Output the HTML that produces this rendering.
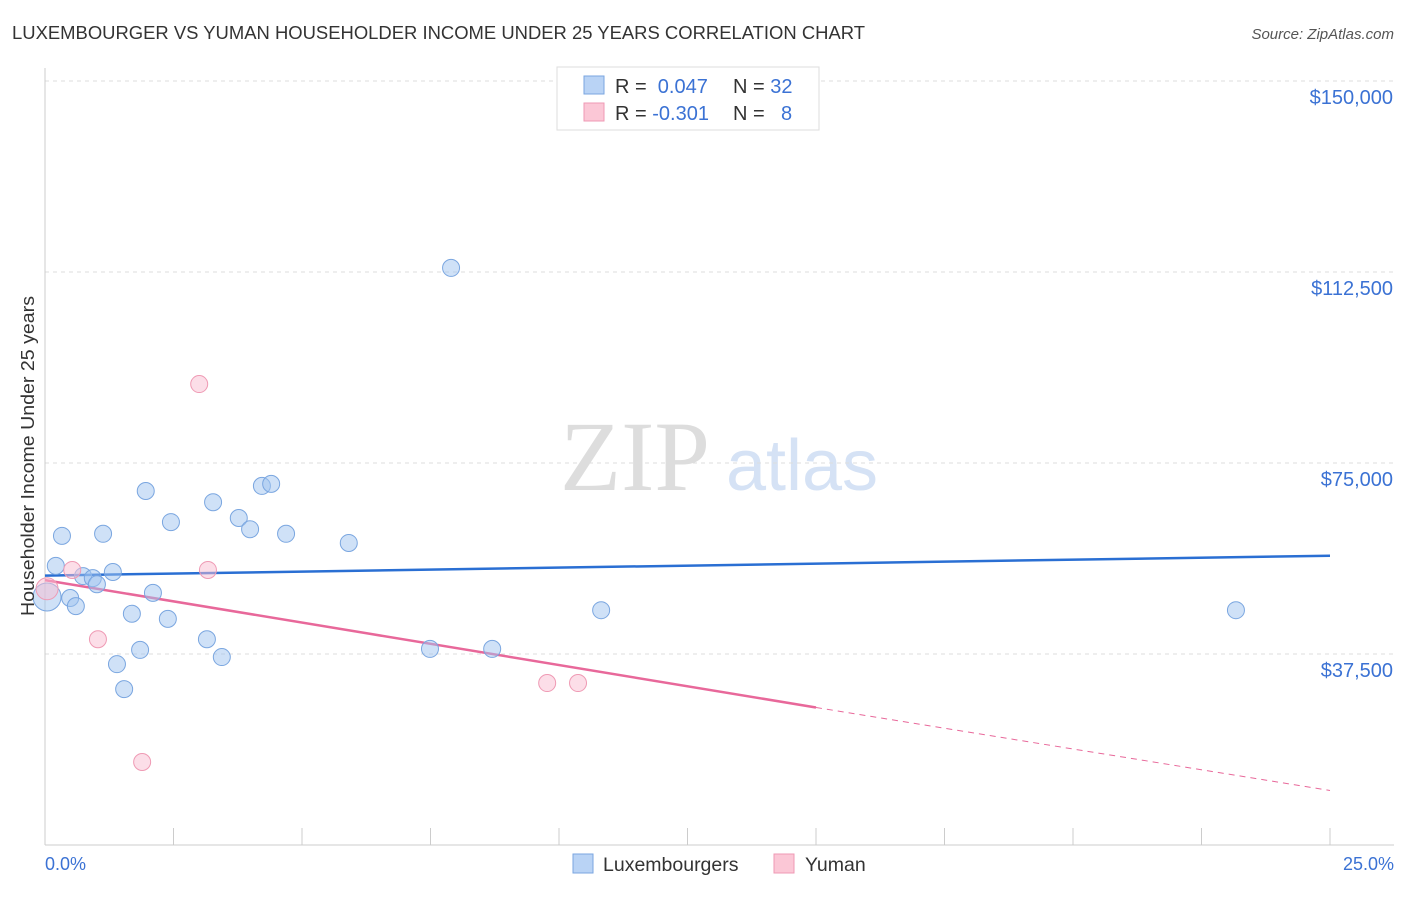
<!DOCTYPE html>
<html><head><meta charset="utf-8"><style>
body{margin:0;background:#fff;font-family:"Liberation Sans",sans-serif;}
svg text{font-family:"Liberation Sans",sans-serif;}
</style></head><body>
<svg id="chart" width="1406" height="892" xmlns="http://www.w3.org/2000/svg">
<text x="12" y="39" font-size="18" fill="#333" textLength="853" lengthAdjust="spacingAndGlyphs">LUXEMBOURGER VS YUMAN HOUSEHOLDER INCOME UNDER 25 YEARS CORRELATION CHART</text>
<text x="1394" y="39" font-size="15" fill="#555" text-anchor="end" font-style="italic">Source: ZipAtlas.com</text>
<g>
<text x="635" y="490" font-size="100" fill="#ddd" style="font-family:'Liberation Serif',serif" text-anchor="middle">ZIP</text>
<text x="802" y="490" font-size="72" fill="#d5e2f5" text-anchor="middle">atlas</text>
</g>
<g id="grid"></g><g id="axes"></g><g id="lines"></g><g id="points"></g>
<text transform="translate(34,456) rotate(-90)" font-size="18" fill="#333" text-anchor="middle" textLength="320" lengthAdjust="spacingAndGlyphs">Householder Income Under 25 years</text>
<text x="45" y="870" font-size="18" fill="#3b72d4">0.0%</text>
<text x="1394" y="870" font-size="18" fill="#3b72d4" text-anchor="end">25.0%</text>
<g>
<rect x="557" y="67" width="262" height="63" fill="#fff" stroke="#ddd"/>
<rect x="584" y="76" width="20" height="18" fill="#b9d3f5" stroke="#7aa6e0"/>
<rect x="584" y="103" width="20" height="18" fill="#fbc7d6" stroke="#ef9ab4"/>
<text x="615" y="93" font-size="20" fill="#333">R = <tspan fill="#3b72d4">&#160;0.047</tspan><tspan x="733">N = </tspan><tspan fill="#3b72d4">32</tspan></text>
<text x="615" y="120" font-size="20" fill="#333">R = <tspan fill="#3b72d4">-0.301</tspan><tspan x="733">N = </tspan><tspan fill="#3b72d4" x="781">8</tspan></text>
</g>
<g>
<rect x="573" y="854" width="20" height="19" fill="#b9d3f5" stroke="#7aa6e0"/>
<text x="603" y="871" font-size="19.5" fill="#333">Luxembourgers</text>
<rect x="774" y="854" width="20" height="19" fill="#fbc7d6" stroke="#ef9ab4"/>
<text x="805" y="871" font-size="19.5" fill="#333">Yuman</text>
</g>
</svg>
<script>
const yTicks=[37500,75000,112500,150000];
const yTickLabels=["$37,500","$75,000","$112,500","$150,000"];
const luxX=[0.04,0.21,0.33,0.49,0.6,0.74,0.93,1.01,1.13,1.32,1.4,1.54,1.69,1.85,1.96,2.1,2.39,2.45,3.15,3.27,3.44,3.77,3.99,4.22,4.4,4.69,5.91,7.49,7.9,8.7,10.82,23.17];
const luxY=[48700,54800,60700,48500,46900,52800,52400,51200,61100,53600,35500,30600,45400,38300,69500,49500,44400,63400,40400,67300,36900,64200,62000,70500,70900,61100,59300,38500,113300,38500,46100,46100];
const yumX=[0.04,0.53,1.03,1.89,3.0,3.17,9.77,10.37];
const yumY=[50300,54000,40400,16300,90500,54000,31800,31800];
const luxTrend=[[0,52900],[25,56800]];
const yumTrend=[[0,52000],[15,27000],[25,10700]];
const NS="http://www.w3.org/2000/svg";
const X=p=>45+p/25*1285, Y=v=>845-v/37500*191;
function mk(t,a,parent){const e=document.createElementNS(NS,t);for(const k in a)e.setAttribute(k,a[k]);document.getElementById(parent).appendChild(e);return e;}
yTicks.forEach((v,i)=>{
 const l=mk('line',{x1:45,x2:1394,y1:Y(v),y2:Y(v),stroke:'#ddd','stroke-dasharray':'4,4'},'grid');
 
 
 const t=mk('text',{x:1393,y:Y(v)+23,'font-size':20,fill:'#3b72d4','text-anchor':'end'},'grid');
 t.textContent=yTickLabels[i];
 
 
});
const ax=mk('line',{x1:45,x2:1394,y1:845,y2:845,stroke:'#ccc'},'axes');


const ay=mk('line',{x1:45,x2:45,y1:68,y2:845,stroke:'#ccc'},'axes');


for(let i=0;i<=10;i++){const t=mk('line',{x1:X(i*2.5),x2:X(i*2.5),y1:828,y2:845,stroke:'#ccc'},'axes');
 
 }
const bl=mk('line',{x1:X(luxTrend[0][0]),y1:Y(luxTrend[0][1]),x2:X(luxTrend[1][0]),y2:Y(luxTrend[1][1]),stroke:'#2a6fd3','stroke-width':2.5},'lines');


const pl=mk('line',{x1:X(yumTrend[0][0]),y1:Y(yumTrend[0][1]),x2:X(yumTrend[1][0]),y2:Y(yumTrend[1][1]),stroke:'#e8689a','stroke-width':2.5},'lines');


const pd=mk('line',{x1:X(yumTrend[1][0]),y1:Y(yumTrend[1][1]),x2:X(yumTrend[2][0]),y2:Y(yumTrend[2][1]),stroke:'#e8689a','stroke-width':1,'stroke-dasharray':'6,5'},'lines');


luxX.forEach((x,i)=>{const c=mk('circle',{cx:X(x),cy:Y(luxY[i]),r:i==0?14:8.5,fill:'rgba(160,196,240,0.5)',stroke:'#7aa6e0','stroke-width':1},'points');
 
 });
yumX.forEach((x,i)=>{const c=mk('circle',{cx:X(x),cy:Y(yumY[i]),r:i==0?11:8.5,fill:'rgba(250,190,210,0.5)',stroke:'#ef9ab4','stroke-width':1},'points');
 
 });
</script>
</body></html>
